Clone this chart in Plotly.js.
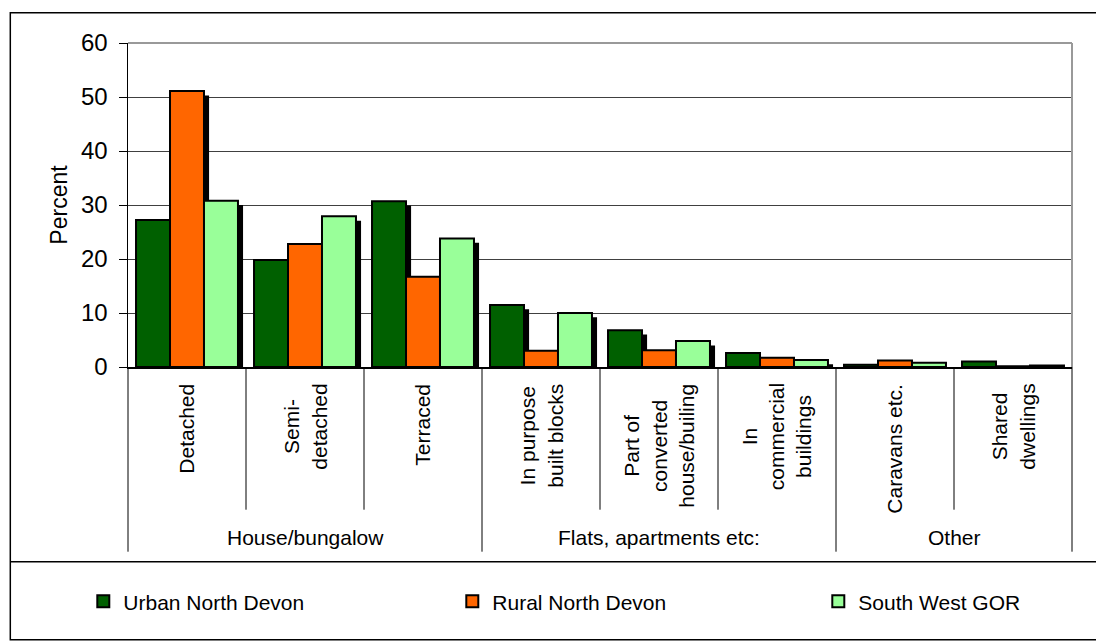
<!DOCTYPE html>
<html>
<head>
<meta charset="utf-8">
<script src="https://cdn.plot.ly/plotly-3.0.1.min.js"></script>
<style>
html,body{margin:0;padding:0;background:#fff;overflow:hidden;}
#chart{width:1096px;height:643px;}
</style>
</head>
<body>
<div id="chart"></div>
<script>
// ---- data ----
var categories = ['Detached','Semi-detached','Terraced','In purpose built blocks','Part of converted house/builing','In commercial buildings','Caravans etc.','Shared dwellings'];
var tickLabels = ['Detached','Semi-<br>detached','Terraced','In purpose<br>built blocks','Part of<br>converted<br>house/builing','In<br>commercial<br>buildings','Caravans etc.','Shared<br>dwellings'];
var groupLabels = ['House/bungalow','Flats, apartments etc:','Other'];
var groupSizes = [3,3,2];
var seriesNames = ['Urban North Devon','Rural North Devon','South West GOR'];
var urban = [27.2, 19.8, 30.7, 11.5, 6.8, 2.6, 0.4, 1.0];
var rural = [51.1, 22.8, 16.7, 3.0, 3.1, 1.7, 1.2, 0.15];
var southWest = [30.8, 27.9, 23.8, 10.0, 4.8, 1.3, 0.8, 0.3];
var yTicks = [0,10,20,30,40,50,60];

// ---- styling ----
var colors = ['#006000','#FF6600','#99FF99'];
var FONT = 'Arial, "Liberation Sans", sans-serif';
var barW = 0.288;
var offsets = [-0.432, -0.144, 0.144];
var shadowDx = 0.043;   // ~5px to the right
var shadowDy = -0.8;    // ~4.5px down
var legendIds = ['legend','legend2','legend3'];
var legendPx = [83, 452, 818];

// plot area geometry (px)
var L = 127.7, R = 1071.7, T = 43.3, B = 367.3;
var W = R - L, H = B - T;
function py(pxY){ return (B - pxY) / H; }
function px(pxX){ return (pxX - L) / W; }
var n = categories.length;

var series = [urban, rural, southWest];
var traces = [];
for (var s = 0; s < 3; s++) {
  traces.push({
    type:'bar', x:categories, y:series[s], base:shadowDy,
    offset:offsets[s]+shadowDx, width:barW,
    marker:{color:'#000', line:{width:0}},
    showlegend:false, hoverinfo:'skip'
  });
  traces.push({
    type:'bar', x:categories, y:series[s], name:seriesNames[s],
    offset:offsets[s], width:barW, legend:legendIds[s],
    marker:{color:colors[s], line:{color:'#000', width:2}}
  });
}

var shapes = [];
var annotations = [];
// outer frame: open path (top, left, bottom edges + legend separator), no right edge
function P(x, y){ return px(x).toFixed(5) + ',' + py(y).toFixed(5); }
var framePath = 'M' + P(1100, 13) + 'L' + P(10, 13) + 'L' + P(10, 640) + 'L' + P(1100, 640) +
                'M' + P(10, 562) + 'L' + P(1100, 562);
shapes.push({type:'path', xref:'paper', yref:'paper', path:framePath,
  line:{color:'#000', width:1.5}, fillcolor:'rgba(0,0,0,0)'});
// plot area top/right border
shapes.push({type:'line', xref:'paper', yref:'paper', x0:0, x1:1, y0:1, y1:1, line:{color:'#999', width:2}});
shapes.push({type:'line', xref:'paper', yref:'paper', x0:1, x1:1, y0:0, y1:1, line:{color:'#999', width:2}});

// category / group boundaries
var outerIdx = [0];
var acc = 0;
for (var g = 0; g < groupSizes.length; g++) { acc += groupSizes[g]; outerIdx.push(acc); }
for (var k = 0; k <= n; k++) {
  var isOuter = outerIdx.indexOf(k) >= 0;
  shapes.push({type:'line', xref:'paper', yref:'paper', x0:k/n, x1:k/n, y0:0, y1:py(isOuter ? 552 : 510), line:{color:'#000', width:1}});
}
// category labels
for (var i = 0; i < n; i++) {
  annotations.push({xref:'x', yref:'paper', x:categories[i], y:py(382), text:tickLabels[i], textangle:-90,
    showarrow:false, xanchor:'center', yanchor:'top', align:'center',
    font:{family:FONT, size:21, color:'#000'}});
}
// group labels
var start = 0;
for (var g2 = 0; g2 < groupSizes.length; g2++) {
  var mid = (start + groupSizes[g2] / 2) / n;
  annotations.push({xref:'paper', yref:'paper', x:mid, y:py(538), text:groupLabels[g2], showarrow:false,
    xanchor:'center', yanchor:'middle', font:{family:FONT, size:21, color:'#000'}});
  start += groupSizes[g2];
}

function legendCfg(pxX){
  return {orientation:'h', x:px(pxX), xanchor:'left', y:py(602), yanchor:'middle',
    font:{family:FONT, size:21, color:'#000'}, bgcolor:'rgba(0,0,0,0)'};
}

var layout = {
  width:1096, height:643,
  margin:{l:L, r:1096-R, t:T, b:643-B},
  paper_bgcolor:'#fff', plot_bgcolor:'#fff',
  barmode:'overlay',
  showlegend:true,
  legend:legendCfg(legendPx[0]),
  legend2:legendCfg(legendPx[1]),
  legend3:legendCfg(legendPx[2]),
  xaxis:{type:'category', range:[-0.5, n-0.5], showticklabels:false, ticks:'',
    showline:true, linecolor:'#000', linewidth:1.5, showgrid:false, zeroline:false, fixedrange:true},
  yaxis:{range:[0,60], tickvals:yTicks, ticktext:yTicks.map(String), ticks:'outside', ticklen:8, tickcolor:'#000', tickwidth:1,
    showline:true, linecolor:'#000', linewidth:1.5, showgrid:true, gridcolor:'#404040', gridwidth:1, zeroline:false,
    tickfont:{family:FONT, size:24, color:'#000'}, ticklabelstandoff:6,
    title:{text:'Percent', font:{family:FONT, size:23, color:'#000'}, standoff:7}, fixedrange:true},
  shapes:shapes,
  annotations:annotations,
  hovermode:false
};

Plotly.newPlot('chart', traces, layout, {staticPlot:true, displayModeBar:false});
</script>
</body>
</html>
